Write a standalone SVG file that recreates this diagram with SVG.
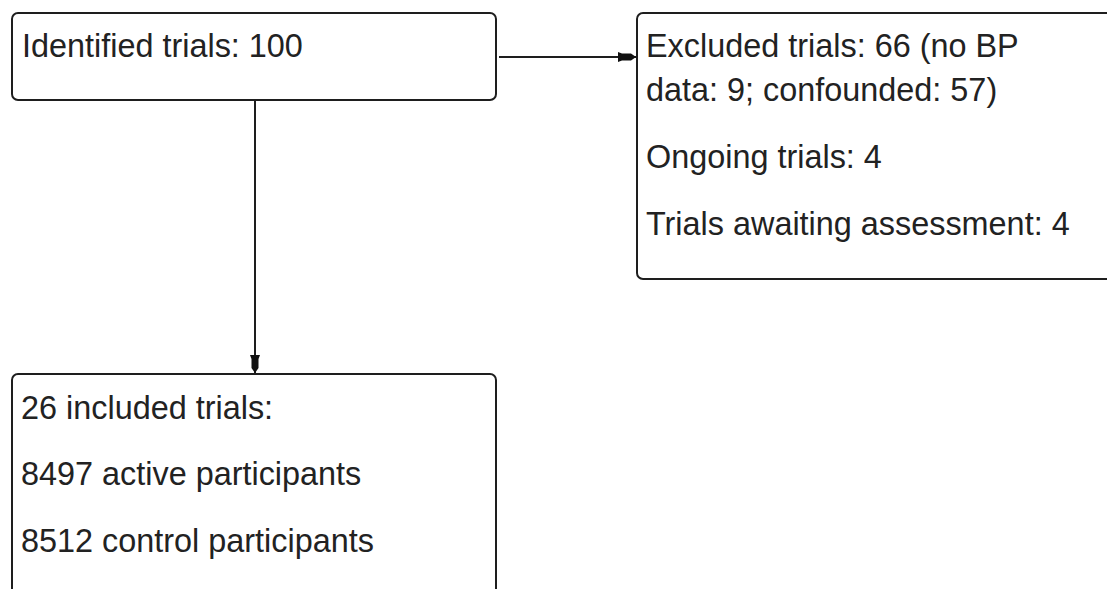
<svg xmlns="http://www.w3.org/2000/svg" width="1107" height="589" viewBox="0 0 1107 589">
  <style>
    .box { fill: #ffffff; stroke: #1e1e1e; stroke-width: 2; }
    .lbl { font-family: "Liberation Sans", Arial, sans-serif; font-size: 32.4px; fill: #222222; }
    .conn { fill: none; stroke: #1e1e1e; stroke-width: 2; }
  </style>
  <defs>
    <marker id="arrow" viewBox="0 0 18 10" refX="18" refY="5" markerWidth="18" markerHeight="10" markerUnits="userSpaceOnUse" orient="auto">
      <path d="M0,0 L4,1.5 L13,1.5 L18,5 L13,8.5 L4,8.5 L0,10 Z" fill="#111"/>
    </marker>
  </defs>
  <rect width="1107" height="589" fill="#ffffff"/>

  <g id="connectors">
    <line class="conn" x1="499" y1="57" x2="636" y2="57" marker-end="url(#arrow)"/>
    <line class="conn" x1="255" y1="101" x2="255" y2="373" marker-end="url(#arrow)"/>
  </g>

  <g id="node-identified">
    <rect class="box" x="12" y="13" width="484" height="87" rx="6" ry="6"/>
    <text class="lbl" x="22" y="57">Identified trials: 100</text>
  </g>

  <g id="node-excluded">
    <rect class="box" x="637" y="13" width="490" height="266" rx="6" ry="6"/>
    <text class="lbl" x="646" y="57">Excluded trials: 66 (no BP</text>
    <text class="lbl" x="646" y="101">data: 9; confounded: 57)</text>
    <text class="lbl" x="646" y="168">Ongoing trials: 4</text>
    <text class="lbl" x="646" y="235">Trials awaiting assessment: 4</text>
  </g>

  <g id="node-included">
    <rect class="box" x="12" y="374" width="484" height="240" rx="6" ry="6"/>
    <text class="lbl" x="21" y="419">26 included trials:</text>
    <text class="lbl" x="21" y="485">8497 active participants</text>
    <text class="lbl" x="21" y="552">8512 control participants</text>
  </g>
</svg>
